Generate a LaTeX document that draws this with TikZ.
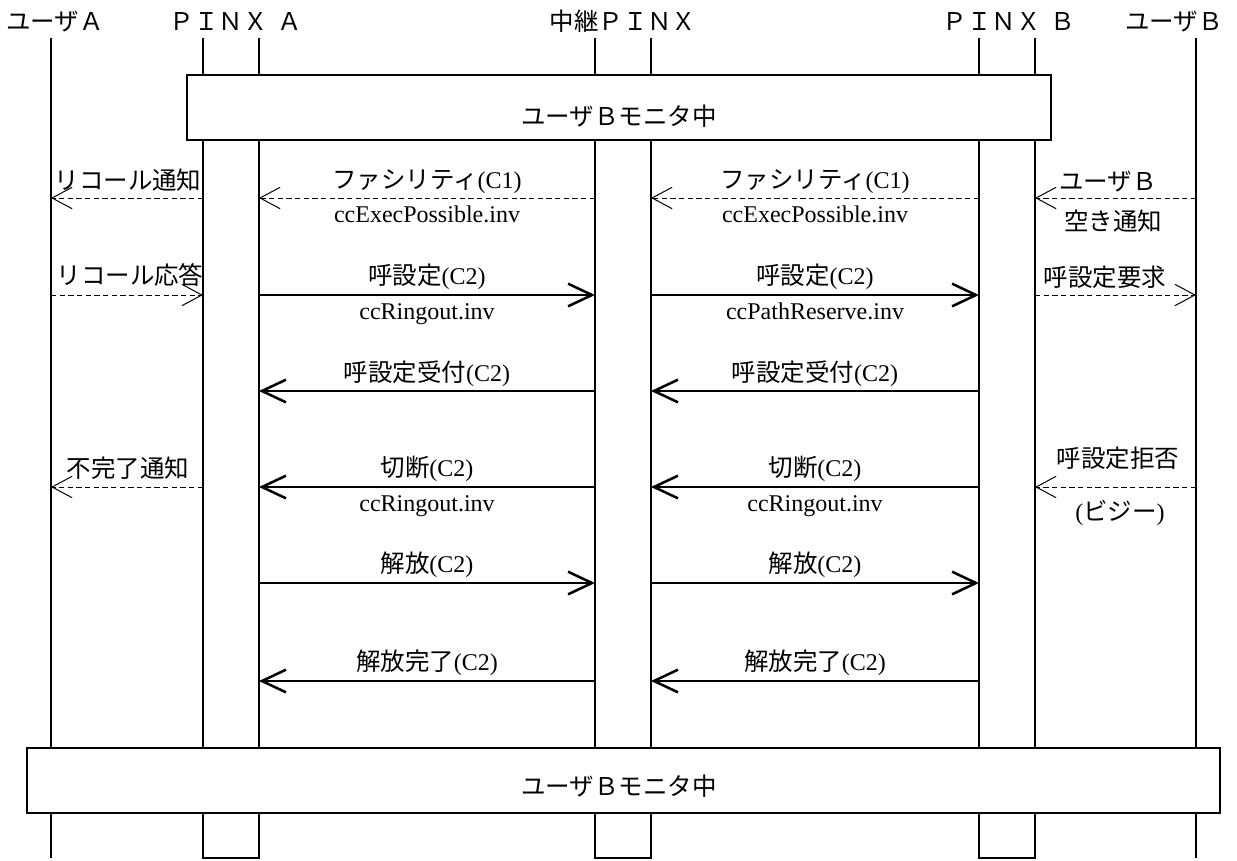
\documentclass[tikz,border=0pt]{standalone}
\usepackage{fontspec}
\setmainfont{Liberation Serif}
\newfontfamily\jp[Scale=1.02]{Noto Sans CJK JP}
\usetikzlibrary{arrows.meta}
\begin{document}
\begin{tikzpicture}[x=0.75pt,y=-0.75pt,
  life/.style={line width=1.1pt},
  mbox/.style={draw,line width=1.1pt,fill=white,inner sep=0pt,minimum height=48.75pt},
  dmsg/.style={line width=0.75pt,dash pattern=on 4pt off 2.5pt,-{Straight Barb[length=15pt,width=16pt]}},
  smsg/.style={line width=1.9pt,-{Straight Barb[length=18pt,width=17pt]}},
  lbl/.style={font=\fontsize{18}{21}\selectfont,inner sep=0pt,anchor=base},
  jl/.style={font=\fontsize{18}{21}\selectfont\jp,inner sep=0pt,anchor=base}]
\useasboundingbox (0,0) rectangle (1237,860);
% lifeline tops
\coordinate (uA) at (51,38);
\coordinate (pAl) at (203,38);
\coordinate (pAr) at (259,38);
\coordinate (rl) at (595,38);
\coordinate (rr) at (651,38);
\coordinate (pBl) at (979,38);
\coordinate (pBr) at (1035,38);
\coordinate (uB) at (1196,38);
\coordinate (bot) at (0,858);
\coordinate (r1) at (0,198);
\coordinate (r2) at (0,295);
\coordinate (r3) at (0,391);
\coordinate (r4) at (0,487);
\coordinate (r5) at (0,583);
\coordinate (r6) at (0,681);
% headers
\node[jl] (hUA) at (55,30) {ユーザＡ};
\node[jl] (hPA) at (236,30) {ＰＩＮＸ\hspace{0.4em}Ａ};
\node[jl] (hR) at (623,30) {中継ＰＩＮＸ};
\node[jl] (hPB) at (1009,30) {ＰＩＮＸ\hspace{0.4em}Ｂ};
\node[jl] (hUB) at (1174,30) {ユーザＢ};
% lifelines
\draw[life] (uA) -- (uA|-bot);
\draw[life] (uB) -- (uB|-bot);
\draw[life] (pAl) -- (pAl|-bot) -- (pAr|-bot) -- (pAr);
\draw[life] (rl) -- (rl|-bot) -- (rr|-bot) -- (rr);
\draw[life] (pBl) -- (pBl|-bot) -- (pBr|-bot) -- (pBr);
% monitor boxes
\node[mbox,minimum width=648pt] (mon1) at (619,107.5) {};
\node[jl] (mon1t) at (619,125) {ユーザＢモニタ中};
\node[mbox,minimum width=894.75pt] (mon2) at (623.5,780.5) {};
\node[jl] (mon2t) at (619,795) {ユーザＢモニタ中};
% row 1
\draw[dmsg] (pAl|-r1) -- (uA|-r1);
\draw[dmsg] (rl|-r1) -- (pAr|-r1);
\draw[dmsg] (pBl|-r1) -- (rr|-r1);
\draw[dmsg] (uB|-r1) -- (pBr|-r1);
\node[jl] (t11) at (128,189) {リコール通知};
\node[lbl] (t12) at (427,188) {{\jp ファシリティ}(C1)};
\node[lbl] (t13) at (427,222) {ccExecPossible.inv};
\node[lbl] (t14) at (815,188) {{\jp ファシリティ}(C1)};
\node[lbl] (t15) at (815,222) {ccExecPossible.inv};
\node[jl] (t16) at (1108,190) {ユーザＢ};
\node[jl] (t17) at (1113,230) {空き通知};
% row 2
\draw[dmsg] (uA|-r2) -- (pAl|-r2);
\draw[smsg] (pAr|-r2) -- (rl|-r2);
\draw[smsg] (rr|-r2) -- (pBl|-r2);
\draw[dmsg] (pBr|-r2) -- (uB|-r2);
\node[jl] (t21) at (130,284) {リコール応答};
\node[lbl] (t22) at (427,284) {{\jp 呼設定}(C2)};
\node[lbl] (t23) at (427,319) {ccRingout.inv};
\node[lbl] (t24) at (815,284) {{\jp 呼設定}(C2)};
\node[lbl] (t25) at (815,319) {ccPathReserve.inv};
\node[jl] (t26) at (1105,286) {呼設定要求};
% row 3
\draw[smsg] (rl|-r3) -- (pAr|-r3);
\draw[smsg] (pBl|-r3) -- (rr|-r3);
\node[lbl] (t31) at (427,381) {{\jp 呼設定受付}(C2)};
\node[lbl] (t32) at (815,381) {{\jp 呼設定受付}(C2)};
% row 4
\draw[dmsg] (pAl|-r4) -- (uA|-r4);
\draw[smsg] (rl|-r4) -- (pAr|-r4);
\draw[smsg] (pBl|-r4) -- (rr|-r4);
\draw[dmsg] (uB|-r4) -- (pBr|-r4);
\node[jl] (t41) at (128,477) {不完了通知};
\node[lbl] (t42) at (427,476) {{\jp 切断}(C2)};
\node[lbl] (t43) at (427,511) {ccRingout.inv};
\node[lbl] (t44) at (815,476) {{\jp 切断}(C2)};
\node[lbl] (t45) at (815,511) {ccRingout.inv};
\node[jl] (t46) at (1118,467) {呼設定拒否};
\node[lbl] (t47) at (1120,520) {({\jp ビジー})};
% row 5
\draw[smsg] (pAr|-r5) -- (rl|-r5);
\draw[smsg] (rr|-r5) -- (pBl|-r5);
\node[lbl] (t51) at (427,572) {{\jp 解放}(C2)};
\node[lbl] (t52) at (815,572) {{\jp 解放}(C2)};
% row 6
\draw[smsg] (rl|-r6) -- (pAr|-r6);
\draw[smsg] (pBl|-r6) -- (rr|-r6);
\node[lbl] (t61) at (427,670) {{\jp 解放完了}(C2)};
\node[lbl] (t62) at (815,670) {{\jp 解放完了}(C2)};
\end{tikzpicture}
\end{document}
